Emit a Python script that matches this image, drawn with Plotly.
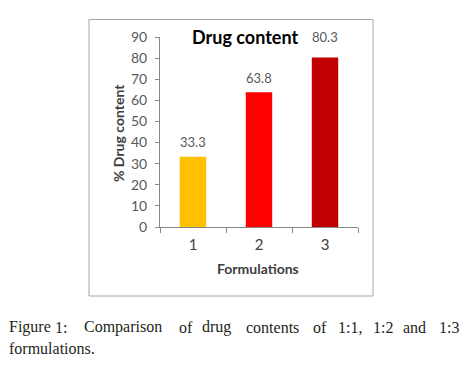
import plotly.graph_objects as go

categories = ["1", "2", "3"]
drug_content = [33.3, 63.8, 80.3]
bar_colors = ["#FFC000", "#FF0000", "#C00000"]
y_ticks = [0, 10, 20, 30, 40, 50, 60, 70, 80, 90]
title_text = "Drug content"
x_title = "Formulations"
y_title = "% Drug content"
caption_line1 = ["Figure", "1:", "Comparison", "of", "drug", "contents", "of", "1:1,", "1:2", "and", "1:3"]
caption_line2 = ["formulations."]

W, H = 459, 370
L, R, T, B = 160, 101, 37, 143
PW, PH = W - L - R, H - T - B

def px(x):
    return (x - L) / PW

def py(y):
    return (H - B - y) / PH

fig = go.Figure()
fig.add_trace(go.Bar(x=categories, y=drug_content, marker=dict(color=bar_colors, line=dict(width=0)),
                     width=0.4, hoverinfo="skip"))

label_shift = [5, 4, 10]
for i, (c, v, s) in enumerate(zip(categories, drug_content, label_shift)):
    fig.add_annotation(x=i, y=v, xref="x", yref="y", text=f"{v}", showarrow=False,
                       yanchor="bottom", yshift=s,
                       font=dict(family="Lato", size=13, color="#595959"))

fig.add_annotation(x=px(245), y=py(37), xref="paper", yref="paper", text=f"<b>{title_text}</b>",
                   showarrow=False, xanchor="center", yanchor="middle",
                   font=dict(family="Lato", size=18, color="#000000"))
fig.add_annotation(x=px(118), y=py(133), xref="paper", yref="paper", text=f"<b>{y_title}</b>",
                   showarrow=False, textangle=-90, xanchor="center", yanchor="middle",
                   font=dict(family="Lato", size=14, color="#404040"))
fig.add_annotation(x=px(258), y=py(268), xref="paper", yref="paper", text=f"<b>{x_title}</b>",
                   showarrow=False, xanchor="center", yanchor="middle",
                   font=dict(family="Lato", size=14, color="#404040"))

line1_x = [7, 53, 82, 177, 200, 244, 311, 336, 371, 401, 437]
for w, x in zip(caption_line1, line1_x):
    fig.add_annotation(x=px(x), y=py(327), xref="paper", yref="paper", text=w, showarrow=False,
                       xanchor="left", yanchor="middle",
                       font=dict(family="Liberation Serif", size=16, color="#231f20"))
fig.add_annotation(x=px(7), y=py(348), xref="paper", yref="paper", text=caption_line2[0], showarrow=False,
                   xanchor="left", yanchor="middle",
                   font=dict(family="Liberation Serif", size=16, color="#231f20"))

fig.add_shape(type="rect", xref="paper", yref="paper", x0=px(89), x1=px(373), y0=py(296), y1=py(19.5),
              line=dict(color="#A6A6A6", width=1), fillcolor="rgba(0,0,0,0)")

fig.update_layout(
    width=W, height=H, autosize=False,
    margin=dict(l=L, r=R, t=T, b=B, pad=0),
    paper_bgcolor="white", plot_bgcolor="white",
    showlegend=False, bargap=0.6,
    xaxis=dict(type="category", tickson="boundaries", ticks="outside", ticklen=5, tickcolor="#868686",
               showline=True, linecolor="#868686", linewidth=1, showgrid=False, zeroline=False,
               ticklabelstandoff=4,
               tickfont=dict(family="Lato", size=15, color="#404040"), range=[-0.5, 2.5]),
    yaxis=dict(range=[0, 90], tickvals=y_ticks, ticks="outside", ticklen=4, tickcolor="#868686",
               showline=True, linecolor="#868686", linewidth=1, showgrid=False, zeroline=False,
               ticklabelstandoff=5,
               tickfont=dict(family="Lato", size=14, color="#595959")),
)

fig.write_html("out.html", config={"displayModeBar": False},
               post_script="document.body.style.margin='0';")
